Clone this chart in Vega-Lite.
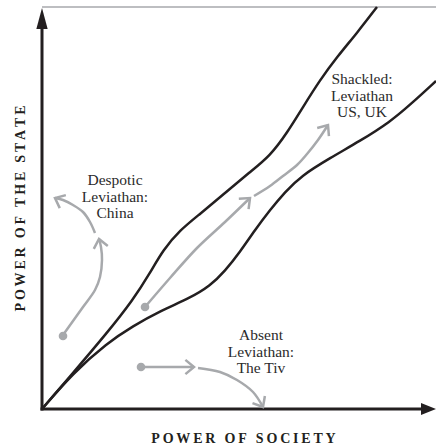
{
  "$schema": "https://vega.github.io/schema/vega-lite/v6.json",
  "width": 394,
  "height": 402,
  "autosize": {"type": "none"},
  "padding": {"left": 42, "top": 7, "right": 0, "bottom": 37},
  "background": "white",
  "config": {"view": {"stroke": null}},
  "datasets": {
    "curves": [
      {"curve": "upper", "i": 0, "x": 0, "y": 0},
      {"curve": "upper", "i": 1, "x": 31, "y": 36},
      {"curve": "upper", "i": 2, "x": 65, "y": 76},
      {"curve": "upper", "i": 3, "x": 91, "y": 109},
      {"curve": "upper", "i": 4, "x": 108, "y": 136},
      {"curve": "upper", "i": 5, "x": 121, "y": 159},
      {"curve": "upper", "i": 6, "x": 138, "y": 179},
      {"curve": "upper", "i": 7, "x": 158, "y": 195},
      {"curve": "upper", "i": 8, "x": 183, "y": 216},
      {"curve": "upper", "i": 9, "x": 208, "y": 237},
      {"curve": "upper", "i": 10, "x": 228, "y": 253},
      {"curve": "upper", "i": 11, "x": 245, "y": 276},
      {"curve": "upper", "i": 12, "x": 261, "y": 302},
      {"curve": "upper", "i": 13, "x": 278, "y": 329},
      {"curve": "upper", "i": 14, "x": 295, "y": 352},
      {"curve": "upper", "i": 15, "x": 315, "y": 376},
      {"curve": "upper", "i": 16, "x": 335, "y": 402},
      {"curve": "lower", "i": 0, "x": 0, "y": 0},
      {"curve": "lower", "i": 1, "x": 31, "y": 36},
      {"curve": "lower", "i": 2, "x": 65, "y": 66},
      {"curve": "lower", "i": 3, "x": 91, "y": 83},
      {"curve": "lower", "i": 4, "x": 118, "y": 98},
      {"curve": "lower", "i": 5, "x": 148, "y": 111},
      {"curve": "lower", "i": 6, "x": 168, "y": 123},
      {"curve": "lower", "i": 7, "x": 183, "y": 138},
      {"curve": "lower", "i": 8, "x": 198, "y": 157},
      {"curve": "lower", "i": 9, "x": 213, "y": 179},
      {"curve": "lower", "i": 10, "x": 228, "y": 199},
      {"curve": "lower", "i": 11, "x": 243, "y": 217},
      {"curve": "lower", "i": 12, "x": 259, "y": 233},
      {"curve": "lower", "i": 13, "x": 288, "y": 251},
      {"curve": "lower", "i": 14, "x": 318, "y": 268},
      {"curve": "lower", "i": 15, "x": 348, "y": 287},
      {"curve": "lower", "i": 16, "x": 369, "y": 305},
      {"curve": "lower", "i": 17, "x": 394, "y": 328}
    ],
    "arrows": [
      {"arrow": "A1", "i": 0, "x": 21, "y": 74},
      {"arrow": "A1", "i": 1, "x": 41, "y": 102},
      {"arrow": "A1", "i": 2, "x": 53, "y": 119},
      {"arrow": "A1", "i": 3, "x": 58, "y": 132},
      {"arrow": "A1", "i": 4, "x": 60, "y": 149},
      {"arrow": "A1", "i": 5, "x": 59, "y": 162},
      {"arrow": "A1", "i": 6, "x": 57, "y": 170},
      {"arrow": "A2", "i": 0, "x": 53, "y": 176},
      {"arrow": "A2", "i": 1, "x": 48, "y": 187},
      {"arrow": "A2", "i": 2, "x": 41, "y": 197},
      {"arrow": "A2", "i": 3, "x": 31, "y": 204},
      {"arrow": "A2", "i": 4, "x": 21, "y": 209},
      {"arrow": "A2", "i": 5, "x": 13, "y": 211},
      {"arrow": "B1", "i": 0, "x": 103, "y": 102},
      {"arrow": "B1", "i": 1, "x": 128, "y": 131},
      {"arrow": "B1", "i": 2, "x": 155, "y": 161},
      {"arrow": "B1", "i": 3, "x": 183, "y": 187},
      {"arrow": "B1", "i": 4, "x": 208, "y": 211},
      {"arrow": "B2", "i": 0, "x": 212, "y": 213},
      {"arrow": "B2", "i": 1, "x": 228, "y": 223},
      {"arrow": "B2", "i": 2, "x": 241, "y": 233},
      {"arrow": "B2", "i": 3, "x": 255, "y": 244},
      {"arrow": "B2", "i": 4, "x": 265, "y": 255},
      {"arrow": "B2", "i": 5, "x": 276, "y": 269},
      {"arrow": "B2", "i": 6, "x": 286, "y": 284},
      {"arrow": "C1", "i": 0, "x": 99, "y": 42},
      {"arrow": "C1", "i": 1, "x": 152, "y": 42},
      {"arrow": "C2", "i": 0, "x": 156, "y": 41},
      {"arrow": "C2", "i": 1, "x": 178, "y": 37},
      {"arrow": "C2", "i": 2, "x": 195, "y": 29},
      {"arrow": "C2", "i": 3, "x": 211, "y": 17},
      {"arrow": "C2", "i": 4, "x": 221, "y": 2}
    ],
    "tips": [
      {"arrow": "A1", "x": 57, "y": 170, "heading": -12},
      {"arrow": "A2", "x": 13, "y": 211, "heading": -65},
      {"arrow": "B1", "x": 208, "y": 211, "heading": 47},
      {"arrow": "B2", "x": 286, "y": 284, "heading": 35},
      {"arrow": "C1", "x": 152, "y": 42, "heading": 90},
      {"arrow": "C2", "x": 221, "y": 2, "heading": 150}
    ],
    "dots": [
      {"case": "Despotic", "x": 21, "y": 73},
      {"case": "Shackled", "x": 103, "y": 102},
      {"case": "Absent", "x": 99, "y": 42}
    ],
    "labels": [
      {"x": 73, "y": 229, "text": "Despotic\nLeviathan:\nChina"},
      {"x": 320, "y": 330, "text": "Shackled:\nLeviathan\nUS, UK"},
      {"x": 219, "y": 74, "text": "Absent\nLeviathan:\nThe Tiv"}
    ]
  },
  "encoding": {
    "x": {
      "field": "x",
      "type": "quantitative",
      "scale": {"domain": [0, 394], "nice": false, "zero": false},
      "axis": {
        "title": "P\u2009O\u2009W\u2009E\u2009R\u2009 \u2009O\u2009F\u2009 \u2009S\u2009O\u2009C\u2009I\u2009E\u2009T\u2009Y",
        "domain": false, "ticks": false, "labels": false, "grid": false,
        "titleX": 201, "titleY": 33, "titleAlign": "center", "titleBaseline": "alphabetic",
        "titleFont": "Liberation Serif", "titleFontSize": 14, "titleFontWeight": "bold", "titleColor": "#231f20"
      }
    },
    "y": {
      "field": "y",
      "type": "quantitative",
      "scale": {"domain": [0, 402], "nice": false, "zero": false},
      "axis": {
        "title": "P\u2009O\u2009W\u2009E\u2009R\u2009 \u2009O\u2009F\u2009 \u2009T\u2009H\u2009E\u2009 \u2009S\u2009T\u2009A\u2009T\u2009E",
        "domain": false, "ticks": false, "labels": false, "grid": false,
        "titleX": -18, "titleY": 201, "titleAngle": -90, "titleAlign": "center", "titleBaseline": "alphabetic",
        "titleFont": "Liberation Serif", "titleFontSize": 14, "titleFontWeight": "bold", "titleColor": "#231f20"
      }
    }
  },
  "layer": [
    {
      "data": {"values": [{"x": 0, "y": 402, "x2": 394, "y2": 402}]},
      "mark": {"type": "rule", "stroke": "#a7a9ac", "strokeWidth": 1.5},
      "encoding": {"x2": {"field": "x2"}, "y2": {"field": "y2"}}
    },
    {
      "data": {"values": [{"x": 0, "y": 0, "x2": 0, "y2": 381}, {"x": 0, "y": 0, "x2": 380, "y2": 0}]},
      "mark": {"type": "rule", "stroke": "#231f20", "strokeWidth": 3, "strokeCap": "square"},
      "encoding": {"x2": {"field": "x2"}, "y2": {"field": "y2"}}
    },
    {
      "data": {"values": [{"x": 0, "y": 401}]},
      "mark": {"type": "point", "shape": "M0,0L0.27,1L-0.27,1Z", "size": 1764, "filled": true, "fill": "#231f20", "strokeWidth": 0, "opacity": 1}
    },
    {
      "data": {"values": [{"x": 394, "y": 0}]},
      "mark": {"type": "point", "shape": "M0,0L-1,-0.4L-1,0.4Z", "size": 900, "filled": true, "fill": "#231f20", "strokeWidth": 0, "opacity": 1}
    },
    {
      "data": {"name": "arrows"},
      "mark": {"type": "line", "interpolate": "catmull-rom", "stroke": "#a7a9ac", "strokeWidth": 2.5},
      "encoding": {"detail": {"field": "arrow"}, "order": {"field": "i", "type": "quantitative"}}
    },
    {
      "data": {"name": "tips"},
      "mark": {"type": "point", "shape": "M-0.64,0.77L0,0L0.64,0.77", "size": 500, "filled": false, "stroke": "#a7a9ac", "strokeWidth": 2.5, "opacity": 1, "strokeJoin": "miter"},
      "encoding": {"angle": {"field": "heading", "type": "quantitative", "scale": null}}
    },
    {
      "data": {"name": "dots"},
      "mark": {"type": "circle", "size": 75, "fill": "#a7a9ac", "opacity": 1}
    },
    {
      "data": {"name": "curves"},
      "mark": {"type": "line", "interpolate": "basis", "stroke": "#231f20", "strokeWidth": 2.5},
      "encoding": {"detail": {"field": "curve"}, "order": {"field": "i", "type": "quantitative"}}
    },
    {
      "data": {"name": "labels"},
      "mark": {"type": "text", "align": "center", "baseline": "middle", "lineBreak": "\n", "lineHeight": 16.5, "font": "Liberation Serif", "fontSize": 15.5, "fill": "#2b2b2b"},
      "encoding": {"text": {"field": "text"}}
    }
  ]
}
